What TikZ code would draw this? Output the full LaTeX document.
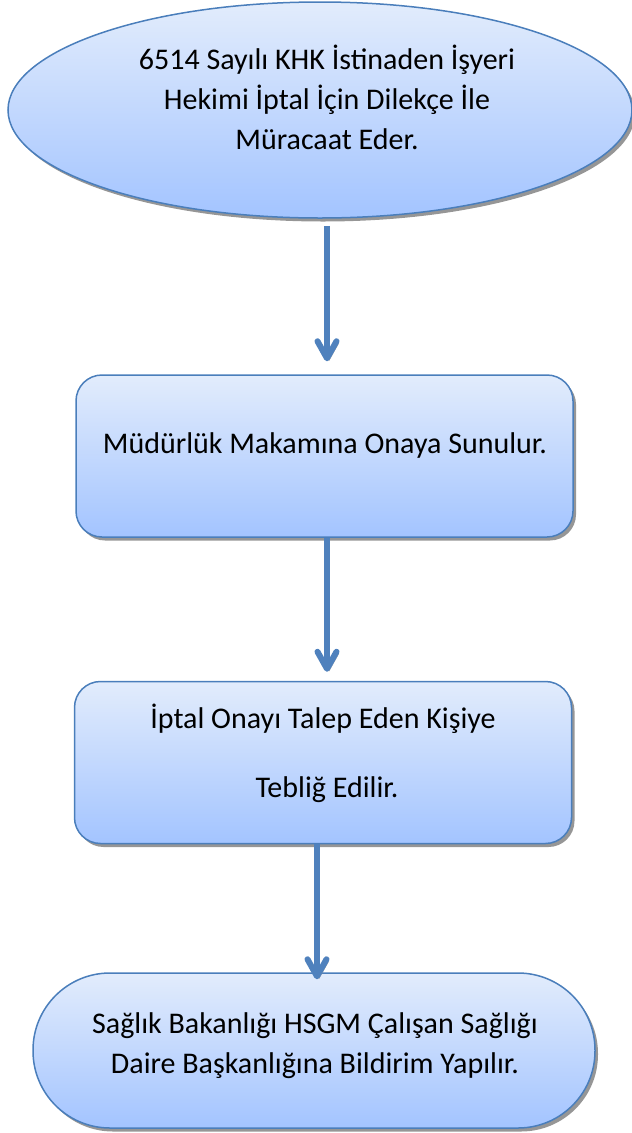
\documentclass[tikz,border=0pt]{standalone}
\usepackage{fontspec}
\setmainfont{Carlito}
\usetikzlibrary{shapes.geometric,shadows,arrows.meta}
\definecolor{edgeblue}{RGB}{74,126,187}
\definecolor{filltop}{RGB}{226,236,252}
\definecolor{fillbot}{RGB}{163,196,255}
\definecolor{shadowgray}{RGB}{150,150,150}
\definecolor{arrowblue}{RGB}{79,129,189}
\begin{document}
\begin{tikzpicture}[x=1pt,y=-1pt,
  shapebase/.style={draw=edgeblue, line width=1.5pt, top color=filltop,
    bottom color=fillbot, inner sep=0pt,
    drop shadow={shadow xshift=3pt,shadow yshift=-3.5pt,fill=shadowgray,opacity=1}},
  oval/.style={shapebase, ellipse, minimum width=624pt, minimum height=216pt},
  stepbox/.style={shapebase, rectangle, rounded corners=26pt,
    minimum width=497pt, minimum height=162pt},
  terminal/.style={shapebase, rectangle, rounded corners=77pt,
    minimum width=562pt, minimum height=155pt},
  textline/.style={anchor=base, inner sep=0pt, font=\fontsize{30pt}{40pt}\selectfont},
  flow/.style={draw=arrowblue, line width=6pt,
    -{Straight Barb[length=17pt,width=19pt,round]},
    preaction={draw=shadowgray, transform canvas={xshift=2pt,yshift=-2.5pt}}}
]
\useasboundingbox (0,0) rectangle (632,1133);

% shapes of the flow
\node[oval] (start) at (320,110) {};
\node[stepbox] (approve) at (324.5,456) {};
\node[stepbox] (notify) at (323,762.5) {};
\node[terminal] (report) at (314,1050.5) {};

% texts
\node[textline] (start1) at (327,69) {6514 Sayılı KHK İstinaden İşyeri};
\node[textline] (start2) at (327,109) {Hekimi İptal İçin Dilekçe İle};
\node[textline] (start3) at (327,149) {Müracaat Eder.};
\node[textline] (approve1) at (325,453) {Müdürlük Makamına Onaya Sunulur.};
\node[textline] (notify1) at (323,728) {İptal Onayı Talep Eden Kişiye};
\node[textline] (notify2) at (327,797) {Tebliğ Edilir.};
\node[textline] (report1) at (315,1033) {Sağlık Bakanlığı HSGM Çalışan Sağlığı};
\node[textline] (report2) at (315,1073) {Daire Başkanlığına Bildirim Yapılır.};

% connectors
\draw[flow] ([xshift=7pt,yshift=-7pt]start.south) -- ([xshift=2.5pt,yshift=13pt]approve.north);
\draw[flow] ([xshift=2.5pt]approve.south) -- ([xshift=4pt,yshift=9pt]notify.north);
\draw[flow] ([xshift=-6pt]notify.south) -- ([xshift=3pt,yshift=-7pt]report.north);
\end{tikzpicture}
\end{document}
